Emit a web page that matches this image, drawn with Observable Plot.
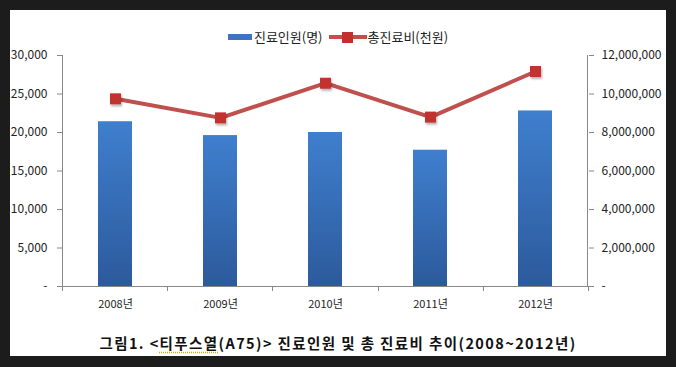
<!DOCTYPE html>
<html>
<head>
<meta charset="utf-8">
<script src="https://cdn.jsdelivr.net/npm/d3@7"></script>
<script src="https://cdn.jsdelivr.net/npm/@observablehq/plot@0.6"></script>
<style>
  html, body { margin: 0; padding: 0; }
  body { width: 676px; height: 367px; background: #1c1c1c; position: relative; overflow: hidden;
         font-family: "Noto Sans CJK KR", "Noto Sans", sans-serif; color: #222; }
  #panel { position: absolute; left: 10px; top: 10px; width: 656px; height: 346px; background: #fff; }
  #legend { position: absolute; left: 0; top: 19px; width: 656px; display: flex; justify-content: center;
            align-items: center; font-size: 13px; line-height: 15px; color: #222; }
  .item { display: flex; align-items: center; }
  #chart { position: absolute; left: 0; top: 35px; }
  #caption { position: absolute; left: 0; top: 322px; width: 656px; text-align: center; font-size: 14.5px;
             font-weight: bold; color: #111; letter-spacing: 1.4px; }
  .sq { text-decoration: underline dotted #d9a020; text-underline-offset: 3px; }
</style>
</head>
<body>
<div id="panel">
  <div id="legend"></div>
  <div id="chart"></div>
  <div id="caption"></div>
</div>
<script>
const years = ["2008년", "2009년", "2010년", "2011년", "2012년"];
const patients = [21400, 19600, 20000, 17700, 22800];          // 진료인원(명)
const costs = [9750000, 8760000, 10560000, 8800000, 11170000]; // 총진료비(천원)
const leftTicks = [0, 5000, 10000, 15000, 20000, 25000, 30000];
const rightTicks = [0, 2000000, 4000000, 6000000, 8000000, 10000000, 12000000];
const seriesNames = ["진료인원(명)", "총진료비(천원)"];
const captionText = ["그림1. <", "티푸스열", "(A75)> 진료인원 및 총 진료비 추이(2008~2012년)"];

const ratio = rightTicks[rightTicks.length - 1] / leftTicks[leftTicks.length - 1];
const rows = years.map((y, i) => ({year: y, patients: patients[i], cost: costs[i]}));
const fmt = d3.format(",");
const tf = d => d === 0 ? "-" : fmt(d);

const chart = Plot.plot({
  width: 656,
  height: 270,
  marginTop: 10,
  marginBottom: 29,
  marginLeft: 52,
  marginRight: 78,
  style: {fontFamily: "'Noto Sans CJK KR', 'Noto Sans', sans-serif", fontSize: "11px", color: "#222", background: "transparent"},
  x: {domain: years, paddingInner: 0.677, paddingOuter: 0.3385, align: 0.5},
  y: {domain: [0, leftTicks[leftTicks.length - 1]]},
  marks: [
    Plot.barY(rows, {x: "year", y: "patients", fill: "url(#barGrad)"}),
    Plot.axisY({anchor: "left", ticks: leftTicks, tickFormat: tf, tickSize: 5, tickPadding: 10, stroke: "#888", fill: "#222", fontSize: 12, label: null}),
    Plot.axisY({anchor: "right", ticks: leftTicks, tickFormat: d => tf(d * ratio), tickSize: 5, tickPadding: 8, stroke: "#888", fill: "#222", fontSize: 12, label: null}),
    Plot.axisX({tickSize: 0, tickPadding: 14, fill: "#222", label: null}),
    Plot.ruleY([0], {stroke: "#888", strokeWidth: 1}),
    Plot.line(rows, {x: "year", y: d => d.cost / ratio, stroke: "#c0504d", strokeWidth: 4, style: "filter: drop-shadow(1px 2px 1px rgba(0,0,0,0.25))"}),
    Plot.dot(rows, {x: "year", y: d => d.cost / ratio, symbol: "square", r: 6.2, fill: "#c2302d", stroke: "none"})
  ]
});

// gradient for bars
const svg = d3.select(chart);
const defs = svg.insert("defs", ":first-child");
const g = defs.append("linearGradient").attr("id", "barGrad").attr("x1", 0).attr("y1", 0).attr("x2", 0).attr("y2", 1);
g.append("stop").attr("offset", "0%").attr("stop-color", "#3f7fce");
g.append("stop").attr("offset", "100%").attr("stop-color", "#2c5a9c");
const sh = defs.append("filter").attr("id", "sh").attr("x", "-50%").attr("y", "-50%").attr("width", "200%").attr("height", "200%");
sh.append("feDropShadow").attr("dx", 1).attr("dy", 2).attr("stdDeviation", 1).attr("flood-opacity", 0.3);
svg.selectAll("g[aria-label='dot'] path").attr("filter", "url(#sh)");

// axis lines & category boundary ticks
const xs = chart.scale("x"), ys = chart.scale("y");
const x0 = xs.range[0], x1 = xs.range[1];
const yb = ys.apply(0), yt = ys.apply(leftTicks[leftTicks.length - 1]);
const ax = svg.append("g").attr("stroke", "#888").attr("fill", "none");
ax.append("line").attr("x1", x0 + 0.5).attr("x2", x0 + 0.5).attr("y1", yt).attr("y2", yb);
ax.append("line").attr("x1", x1 - 0.5).attr("x2", x1 - 0.5).attr("y1", yt).attr("y2", yb);
const step = (x1 - x0) / years.length;
for (let i = 0; i <= years.length; i++) {
  const x = Math.round(x0 + i * step) + 0.5;
  ax.append("line").attr("x1", x).attr("x2", x).attr("y1", yb).attr("y2", yb + 5);
}
document.getElementById("chart").appendChild(chart);

// legend
const lg = document.getElementById("legend");
lg.innerHTML =
  `<div class="item"><svg width="26" height="14"><rect x="0" y="4" width="24" height="6" fill="#3a74c2"/></svg><span>${seriesNames[0]}</span></div>` +
  `<div class="item" style="margin-left:6px"><svg width="39" height="14"><line x1="0" x2="38" y1="7" y2="7" stroke="#c0504d" stroke-width="4"/><rect x="13" y="2" width="11" height="11" fill="#c2302d"/></svg><span>${seriesNames[1]}</span></div>`;

// caption
const cap = document.getElementById("caption");
cap.innerHTML = captionText[0].replace("<", "&lt;") + `<span class="sq">${captionText[1]}</span>` + captionText[2].replace(">", "&gt;");
</script>
</body>
</html>
